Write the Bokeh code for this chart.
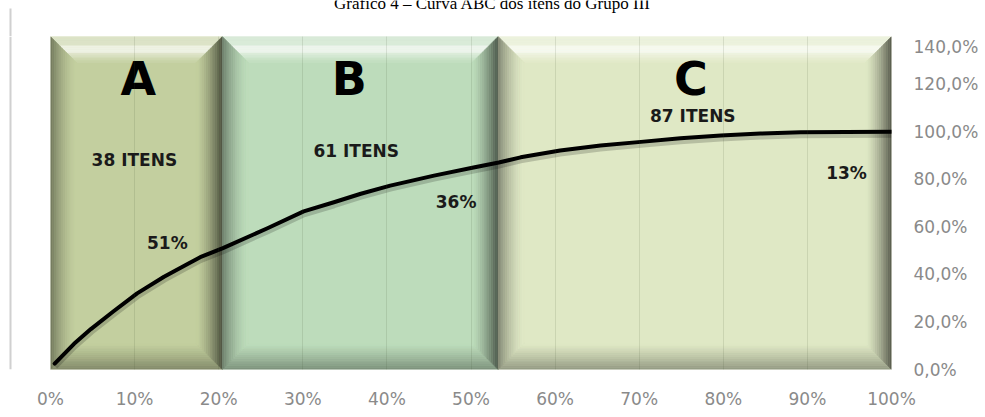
from bokeh.plotting import figure
from bokeh.layouts import column, row
from bokeh.models import FixedTicker, Range1d, CustomJSTickFormatter
from bokeh.core.properties import value
from bokeh.embed import file_html
from bokeh.resources import INLINE

# ---- data -------------------------------------------------------------
title_text = "Gráfico 4 – Curva ABC dos itens do Grupo III"
classes = ["A", "B", "C"]
item_counts = [38, 61, 87]          # items per class
value_share = [51, 36, 13]          # % of total value per class
band_height = [140, 140, 140]       # class columns fill the whole value axis

# cumulative curve: % of items vs cumulative % of value
item_pct = [0.5, 2.8, 4.8, 7.5, 10.3, 13.5, 16.3, 17.8, 20.5, 25.8, 30.1,
            33.7, 36.9, 40.4, 45.6, 50.3, 53.3, 55.9, 60.6, 65.4, 70.2, 74.9,
            79.7, 84.4, 89.2, 100.0]
cum_value_pct = [2.5, 10.8, 17.0, 24.5, 32.0, 39.0, 44.4, 47.2, 51.0, 59.4,
                 66.5, 70.3, 73.9, 77.3, 81.5, 84.9, 87.0, 89.2, 92.1, 94.2,
                 95.7, 97.2, 98.4, 99.2, 99.7, 100.0]

x_ticks = [0, 10, 20, 30, 40, 50, 60, 70, 80, 90, 100]
x_tick_labels = ["0%", "10%", "20%", "30%", "40%", "50%", "60%", "70%",
                 "80%", "90%", "100%"]
y_ticks = [0, 20, 40, 60, 80, 100, 120, 140]
y_tick_labels = ["0,0%", "20,0%", "40,0%", "60,0%", "80,0%", "100,0%",
                 "120,0%", "140,0%"]

# ---- page geometry ------------------------------------------------------
W, H = 985, 417
HEAD_H = 36                  # strip holding the (cut) caption
RULE_W = 12                  # strip holding the page rule on the left
RULE_X = 10
RULE_COLOR = "#d0d0d0"
B_LEFT, B_RIGHT, B_BOTTOM = 50 - RULE_W, 94, 48
MAIN_W, MAIN_H = W - RULE_W, H - HEAD_H
FRAME_W = MAIN_W - B_LEFT - B_RIGHT
FRAME_H = MAIN_H - B_BOTTOM
X_MAX, Y_MAX = 100, 140
PX_X = FRAME_W / X_MAX
PX_Y = FRAME_H / Y_MAX


def bare(width, height):
    f = figure(width=width, height=height, x_range=Range1d(0, width),
               y_range=Range1d(0, height), x_axis_location=None,
               y_axis_location=None, output_backend="svg", toolbar_location=None,
               min_border=0)
    f.outline_line_color = None
    f.grid.grid_line_color = None
    f.border_fill_color = "white"
    return f


# caption strip: the caption runs off the top edge of the page
head = bare(W, HEAD_H)
head.text(x=[492], y=[HEAD_H - 2.5], text=[title_text],
          text_font=value("Liberation Serif"), text_font_size="17px",
          text_align="center", text_baseline="alphabetic", text_color="black")
head.segment(x0=[RULE_X], y0=[0], x1=[RULE_X], y1=[HEAD_H - 8],
             line_color=RULE_COLOR, line_width=2)

# left page rule
rule = bare(RULE_W, MAIN_H)
rule.segment(x0=[RULE_X], y0=[0], x1=[RULE_X], y1=[MAIN_H],
             line_color=RULE_COLOR, line_width=2)

# ---- main chart ---------------------------------------------------------
p = figure(width=MAIN_W, height=MAIN_H, x_range=Range1d(0, X_MAX),
           y_range=Range1d(0, Y_MAX), y_axis_location="right",
           output_backend="svg", toolbar_location=None,
           min_border_left=B_LEFT, min_border_right=B_RIGHT,
           min_border_top=0, min_border_bottom=B_BOTTOM)
p.outline_line_color = None
p.background_fill_color = "white"
p.border_fill_color = "white"

# class columns with bevelled edges
main_colors = [(195, 207, 159), (189, 220, 187), (223, 232, 197)]

total_items = sum(item_counts)
edges = [0.0]
for c in item_counts:
    edges.append(edges[-1] + 100.0 * c / total_items)
lefts, rights = edges[:-1], edges[1:]

p.quad(left=lefts, right=rights, bottom=[0] * 3, top=band_height,
       fill_color=["#%02x%02x%02x" % c for c in main_colors], line_color=None)


def blend(c, target, f):
    return "#%02x%02x%02x" % tuple(int(round(a + (b - a) * f)) for a, b in zip(c, target))


def top_f(t):
    if t < 0.35:
        return 0.42
    if t < 0.62:
        return 0.72
    return 0.5 * (1 - (t - 0.62) / 0.38) + 0.04


def left_f(t):
    return 0.42 * (1 - t) ** 1.6


def right_f(t):
    return 0.62 * (1 - t) ** 1.4


def bottom_f(t):
    return 0.34 * (1 - t) ** 1.2


BEVEL = 26
STEPS = 14
WHITE, BLACK = (255, 255, 255), (0, 0, 0)
bx, by, bc = [], [], []
for x0, x1, y1, col in zip(lefts, rights, band_height, main_colors):
    y0 = 0
    for i in range(STEPS):
        t0, t1 = i / STEPS, (i + 1) / STEPS
        tm = (t0 + t1) / 2
        a0, a1 = t0 * BEVEL / PX_X, t1 * BEVEL / PX_X
        b0, b1 = t0 * BEVEL / PX_Y, t1 * BEVEL / PX_Y
        # top
        bx.append([x0 + a0, x1 - a0, x1 - a1, x0 + a1])
        by.append([y1 - b0, y1 - b0, y1 - b1, y1 - b1])
        bc.append(blend(col, WHITE, top_f(tm)))
        # bottom
        bx.append([x0 + a0, x1 - a0, x1 - a1, x0 + a1])
        by.append([y0 + b0, y0 + b0, y0 + b1, y0 + b1])
        bc.append(blend(col, BLACK, bottom_f(tm)))
        # left
        bx.append([x0 + a0, x0 + a0, x0 + a1, x0 + a1])
        by.append([y0 + b0, y1 - b0, y1 - b1, y0 + b1])
        bc.append(blend(col, BLACK, left_f(tm)))
        # right
        bx.append([x1 - a0, x1 - a0, x1 - a1, x1 - a1])
        by.append([y0 + b0, y1 - b0, y1 - b1, y0 + b1])
        bc.append(blend(col, BLACK, right_f(tm)))

p.patches(xs=bx, ys=by, fill_color=bc, line_color=bc, line_width=0.6)

# axes
p.xaxis.ticker = FixedTicker(ticks=x_ticks)
p.xaxis.formatter = CustomJSTickFormatter(args=dict(labels=x_tick_labels),
                                          code="return labels[index];")
p.yaxis.ticker = FixedTicker(ticks=y_ticks)
p.yaxis.formatter = CustomJSTickFormatter(args=dict(labels=y_tick_labels),
                                          code="return labels[index];")
for ax in (p.xaxis[0], p.yaxis[0]):
    ax.axis_line_color = None
    ax.major_tick_line_color = None
    ax.minor_tick_line_color = None
    ax.major_tick_out = 0
    ax.major_tick_in = 0
    ax.major_label_text_font = "DejaVu Sans"
    ax.major_label_text_font_size = "17px"
    ax.major_label_text_color = "#8a8a8a"
p.xaxis.major_label_standoff = 19
p.yaxis.major_label_standoff = 22

p.ygrid.grid_line_color = None
p.xgrid.ticker = FixedTicker(ticks=x_ticks[1:-1])
p.xgrid.grid_line_color = "#404a30"
p.xgrid.grid_line_alpha = 0.13
p.xgrid.level = "guide"

# cumulative curve with a soft drop shadow
shadow_dy = 2.5 / PX_Y
p.line(item_pct, [v - shadow_dy for v in cum_value_pct], line_color="black",
       line_alpha=0.18, line_width=7)
p.line(item_pct, cum_value_pct, line_color="black", line_width=4,
       line_join="round", line_cap="round")

# labels
centers = [(a + b) / 2 for a, b in zip(lefts, rights)]
letter_dx = [2, -11, -4]           # px nudges from the column centre
p.text(x=[c + d / PX_X for c, d in zip(centers, letter_dx)], y=[122, 122, 122],
       text=classes, text_font=value("DejaVu Sans"), text_font_style="bold",
       text_font_size="46px", text_align="center", text_baseline="middle",
       text_color="black")

items_dx = [-2, -4, -2]
p.text(x=[c + d / PX_X for c, d in zip(centers, items_dx)], y=[88.0, 91.7, 106.7],
       text=["%d ITENS" % n for n in item_counts], text_font=value("DejaVu Sans"),
       text_font_style="bold", text_font_size="17px", text_align="center",
       text_baseline="middle", text_color="#1a1a1a")

# share labels placed next to each class end point on the curve
cum_share = []
s = 0
for v in value_share:
    s += v
    cum_share.append(s)
share_off = [(-55, 5), (-42, -39), (-45, -41)]   # px (right, up)
p.text(x=[e + dx / PX_X for e, (dx, dy) in zip(rights, share_off)],
       y=[c + dy / PX_Y for c, (dx, dy) in zip(cum_share, share_off)],
       text=["%d%%" % v for v in value_share], text_font=value("DejaVu Sans"),
       text_font_style="bold", text_font_size="17px", text_align="center",
       text_baseline="middle", text_color="#1a1a1a")

page = column(head, row(rule, p, spacing=0), spacing=0)
open("out.html", "w").write(file_html(page, INLINE))
